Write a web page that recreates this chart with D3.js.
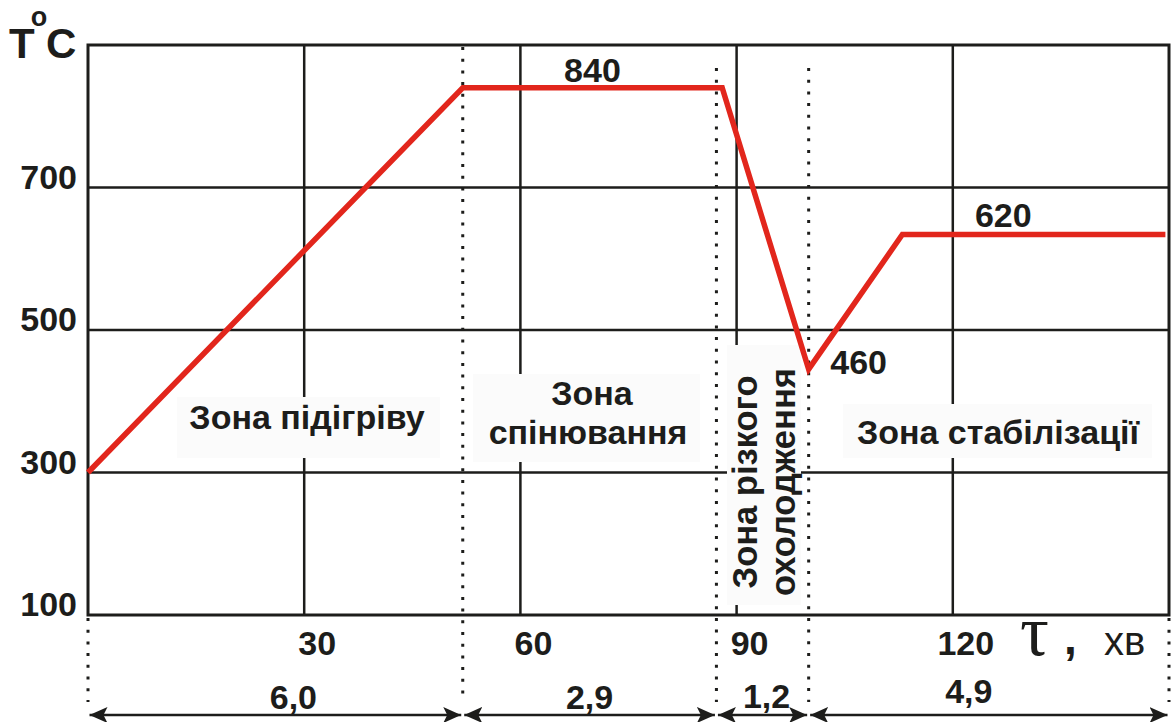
<!DOCTYPE html>
<html>
<head>
<meta charset="utf-8">
<script src="https://cdn.jsdelivr.net/npm/d3@7"></script>
<style>
  html, body { margin: 0; padding: 0; background: #ffffff; }
  svg { display: block; }
  text { font-family: "Liberation Sans", Arial, sans-serif; fill: #1d1d1b; }
</style>
</head>
<body>
<svg id="chart" width="1174" height="722"></svg>
<script>
// ---- data ----
const times = [0, 52, 88, 100, 113, 149.5];          // хв
const temps = [300, 840, 840, 445, 634, 634];         // °C
const xTicks = [30, 60, 90, 120];
const yTicks = [100, 300, 500, 700, 900];
const yTickLabels = ["100", "300", "500", "700", ""];
const zoneBounds = [0, 52, 87.2, 100, 150];
const zoneDurations = ["6,0", "2,9", "1,2", "4,9"];
const valueLabels = ["840", "460", "620"];
const valueLabelAt = [[70, 840], [100, 445], [127, 634]];
const zoneNames = ["Зона підігріву", "Зона спінювання", "Зона різкого охолодження", "Зона стабілізації"];

// ---- layout ----
const svg = d3.select("#chart");
const x = d3.scaleLinear().domain([0, 150]).range([88, 1169]);
const y = d3.scaleLinear().domain([100, 900]).range([615, 45]);
const ink = "#1d1d1b";
const red = "#e2261c";
const boxFill = "#fbfbfb";

// grid
const g = svg.append("g");
g.selectAll("line.h").data(yTicks.slice(1, 4)).enter().append("line")
  .attr("x1", x(0)).attr("x2", x(150))
  .attr("y1", d => y(d)).attr("y2", d => y(d))
  .attr("stroke", ink).attr("stroke-width", 2.5);
g.selectAll("line.v").data(xTicks).enter().append("line")
  .attr("y1", y(900)).attr("y2", y(100))
  .attr("x1", d => x(d)).attr("x2", d => x(d))
  .attr("stroke", ink).attr("stroke-width", 2.5);

// frame
svg.append("rect")
  .attr("x", x(0)).attr("y", y(900))
  .attr("width", x(150) - x(0)).attr("height", y(100) - y(900))
  .attr("fill", "none").attr("stroke", ink).attr("stroke-width", 3);

// dotted zone boundaries
const dotTop = [null, 47, 68, 68, null];
zoneBounds.forEach((b, i) => {
  svg.append("line")
    .attr("x1", x(b)).attr("x2", x(b))
    .attr("y1", dotTop[i] === null ? y(100) + 3 : dotTop[i])
    .attr("y2", 702)
    .attr("stroke", ink).attr("stroke-width", 3)
    .attr("stroke-dasharray", "3,8.7");
});

// zone label boxes + text
function box(x0, y0, x1, y1) {
  svg.append("rect").attr("x", x0).attr("y", y0)
    .attr("width", x1 - x0).attr("height", y1 - y0).attr("fill", boxFill);
}
box(177, 397, 440, 458);
box(473, 374, 700, 462);
box(727, 345, 801, 605);
box(843, 404, 1152, 458);

const zf = 34;
svg.append("text").attr("x", 307).attr("y", 429).attr("text-anchor", "middle")
  .attr("font-size", zf).attr("font-weight", "bold").text(zoneNames[0]);
const zn1 = zoneNames[1].split(" ");
svg.append("text").attr("x", 592).attr("y", 405).attr("text-anchor", "middle")
  .attr("font-size", zf).attr("font-weight", "bold").text(zn1[0]);
svg.append("text").attr("x", 588).attr("y", 444).attr("text-anchor", "middle")
  .attr("font-size", zf).attr("font-weight", "bold").text(zn1[1]);
const zn2 = zoneNames[2].split(" ");
svg.append("text").attr("transform", "translate(757,482) rotate(-90)")
  .attr("text-anchor", "middle").attr("font-size", 34.5).attr("font-weight", "bold")
  .text(zn2[0] + " " + zn2[1]);
svg.append("text").attr("transform", "translate(795,482) rotate(-90)")
  .attr("text-anchor", "middle").attr("font-size", 34.5).attr("font-weight", "bold")
  .text(zn2[2]);
svg.append("text").attr("x", 998).attr("y", 444).attr("text-anchor", "middle")
  .attr("font-size", zf).attr("font-weight", "bold").text(zoneNames[3]);

// temperature curve
const pts = times.map((t, i) => [t, temps[i]]);
svg.append("path")
  .attr("d", d3.line().x(d => x(d[0])).y(d => y(d[1]))(pts))
  .attr("fill", "none").attr("stroke", red).attr("stroke-width", 5.5)
  .attr("stroke-linejoin", "miter");

// value labels
const vlOffset = [[0, -6], [50, 5], [0, -8]];
valueLabels.forEach((s, i) => {
  const [t, v] = valueLabelAt[i];
  svg.append("text")
    .attr("x", x(t) + vlOffset[i][0]).attr("y", y(v) + vlOffset[i][1])
    .attr("text-anchor", "middle").attr("font-size", 34).attr("font-weight", "bold")
    .text(s);
});

// y tick labels
svg.selectAll("text.yl").data(yTicks.slice(0, 4)).enter().append("text")
  .attr("x", 77).attr("y", d => y(d) + 1)
  .attr("text-anchor", "end").attr("font-size", 34).attr("font-weight", "bold")
  .text((d, i) => yTickLabels[i]);

// x tick labels
svg.selectAll("text.xl").data(xTicks).enter().append("text")
  .attr("x", d => x(d) + 13).attr("y", 655)
  .attr("text-anchor", "middle").attr("font-size", 34).attr("font-weight", "bold")
  .text(d => d);

// axis titles
svg.append("text").attr("x", 9).attr("y", 58).attr("font-size", 42).attr("font-weight", "bold").text("T");
svg.append("text").attr("x", 39).attr("y", 26).attr("text-anchor", "middle")
  .attr("font-size", 27).attr("font-weight", "bold").text("o");
svg.append("text").attr("x", 46).attr("y", 58).attr("font-size", 42).attr("font-weight", "bold").text("C");

svg.append("text").attr("x", 1020).attr("y", 655)
  .style("font-family", "'Liberation Serif', 'Times New Roman', serif")
  .attr("font-size", 72).text("τ");
svg.append("text").attr("x", 1064).attr("y", 654)
  .attr("font-size", 46).attr("font-weight", "bold").text(",");
svg.append("text").attr("x", 1104).attr("y", 655)
  .attr("font-size", 40).text("хв");

// duration arrows
const ay = 715;
const defs = svg.append("defs");
defs.append("marker").attr("id", "ah").attr("viewBox", "0 0 18 16")
  .attr("refX", 18).attr("refY", 8).attr("markerWidth", 18).attr("markerHeight", 16)
  .attr("markerUnits", "userSpaceOnUse").attr("orient", "auto-start-reverse")
  .append("path").attr("d", "M0,0 L18,8 L0,16 L4,8 Z").attr("fill", ink);

const durNudge = [18, 0, 4, -20];
const durDy = [709, 709, 708, 703];
zoneDurations.forEach((s, i) => {
  const a = x(zoneBounds[i]) + 1.5, b = x(zoneBounds[i + 1]) - 1.5;
  svg.append("line").attr("x1", a).attr("x2", b).attr("y1", ay).attr("y2", ay)
    .attr("stroke", ink).attr("stroke-width", 2.5)
    .attr("marker-start", "url(#ah)").attr("marker-end", "url(#ah)");
  svg.append("text").attr("x", (a + b) / 2 + durNudge[i]).attr("y", durDy[i])
    .attr("text-anchor", "middle").attr("font-size", 34).attr("font-weight", "bold")
    .text(s);
});
</script>
</body>
</html>
